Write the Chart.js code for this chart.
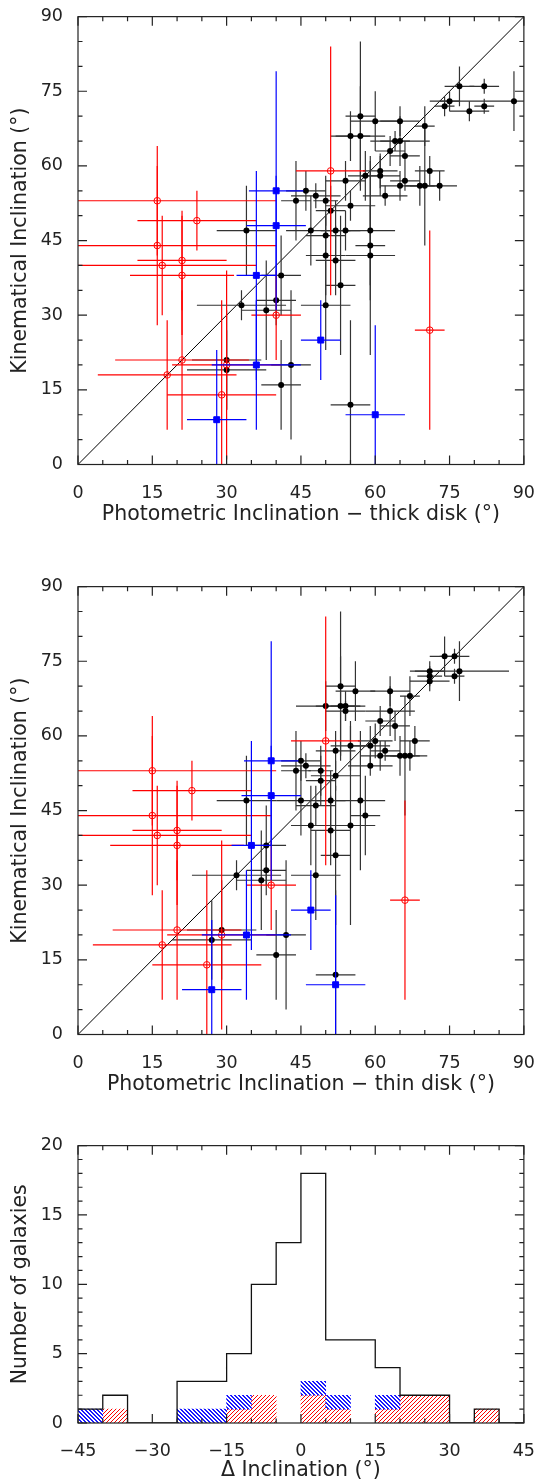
<!DOCTYPE html>
<html>
<head>
<meta charset="utf-8">
<script src="https://cdn.jsdelivr.net/npm/chart.js@4.4.0/dist/chart.umd.min.js"></script>
<style>
    html, body { margin: 0; padding: 0; background: #fff; }
    body { width: 546px; height: 1484px; position: relative; overflow: hidden; }
    canvas { position: absolute; left: 0; }
</style>
</head>
<body>
<canvas id="thick" width="546" height="545" style="top:0px"></canvas>
<canvas id="thin" width="546" height="545" style="top:570px"></canvas>
<canvas id="hist" width="546" height="355" style="top:1129px"></canvas>
<script>
// --- DATA ---
const scatterTicks = [0, 15, 30, 45, 60, 75, 90];
const diagonal = [0, 90];

// black: kinematic vs photometric inclination
const thickBlackX = [77,82,75,74,79,82,88,57,60,65,55,57,70,64,65,63,66,61,58,61,71,54,66,65,69,70,73,62,46,48,44,50,55,51,47,50,52,54,59,34,41,33,40,38,30,30,43,41,59,50,59,52,53,50,55];
const thickBlackY = [76,76,73,72,71,72,73,70,69,69,66,66,68,65,65,63,62,59,58,58,59,57,57,56,56,56,56,54,55,54,53,53,52,51,47,46,47,47,47,47,38,32,33,31,21,19,20,16,44,42,42,41,36,32,12];
const thickBlackXErr = [3,3,2,2,4,2,17,3,5,4,4,5,2,3,6,3,3,3.5,3.5,4,3,4,3,4,3,3,3.5,4.5,4,5,3,2.5,5,3,5,4,3,3,5,6,4,9,4,5,7,8,4,4,3,4,5,4,3,5,4];
const thickBlackYErr = [4,1.5,2,2,2,1.5,6,15,6,3,5,10,4,2,5,3,3,3.5,5,4,3,4,2,3,4,12,3,2,4,2.5,8,5,3,5,7,4,6,4,14,9,8,3,5,10,10,8,15,9,8,8,20,7,14,9,17];

const thinBlackX = [74,76,71,71,71,76,77,53,56,63,50,53,67,54,63,61,64,60,55,59,68,52,62,61,65,66,67,59,45,46,44,49,52,49,45,48,51,54,57,34,38,32,38,37,29,27,42,40,58,47,55,51,52,48,52];
const thinBlackY = [76,76,73,72,71,72,73,70,69,69,66,66,68,65,65,63,62,59,58,58,59,57,57,56,56,56,56,54,55,54,53,53,52,51,47,46,47,66,47,47,38,32,33,31,21,19,20,16,44,42,42,41,36,32,12];
const thinBlackXErr = [3,3,3,2.5,4,2,10,3,4,4,6,5,2,4,5,3,3,3.5,4,4,3,4,3,4,3,3,3.5,4.5,4,5,3,2.5,5,3,5,4,3,3,5,6,4,9,4,5,7,8,4,4,3,4,5,4,3,5,4];
const thinBlackYErr = [4,1.5,2,2,2,1.5,6,15,6,3,5,10,4,2,5,3,3,3.5,5,4,3,4,2,3,4,12,3,2,4,2.5,8,5,3,5,7,4,6,3,14,9,8,3,5,10,10,8,15,9,8,8,20,7,14,9,17];

// red open circles
const redY = [53,49,44,41,40,38,30,21,20,18,14,59,27];
const redYErr = [11,6,16,10,10,12,9,14,19,11,19,25,20];
const thickRedX = [16,24,16,21,17,21,40,21,30,18,29,51,71];
const thickRedXErr = [24,12,24,9,19,10.5,5,13.5,11,14,11,7,3];
const thinRedX = [15,23,15,20,16,20,39,20,29,17,26,50,66];
const thinRedXErr = [25,12,24,9,19,13.5,5,13,11,14,11,7,3];

// blue squares
const blueY = [55,48,38,20,9,25,10];
const blueYErr = [24,10,21,13,14,8,18];
const thickBlueX = [40,40,36,36,28,49,60];
const thickBlueXErr = [5.5,6,4,9,6,4,6];
const thinBlueX = [39,39,35,34,27,47,52];
const thinBlueXErr = [5.5,6,4,9,6,4,6];

// histogram of differences
const histXTicks = [-45, -30, -15, 0, 15, 30, 45];
const histYTicks = [0, 5, 10, 15, 20];
const binEdges = [-45,-40,-35,-30,-25,-20,-15,-10,-5,0,5,10,15,20,25,30,35,40,45];
const allCounts = [1,2,0,0,3,3,5,10,13,18,6,6,4,2,2,0,1,0];
const redCounts = [0,1,0,0,0,0,1,2,0,2,1,0,1,2,2,0,1,0];
const blueCounts = [1,0,0,0,1,1,1,0,0,1,1,0,1,0,0,0,0,0];

// --- STYLE ---
const INK = '#222';
const tickFont = { family: 'DejaVu Sans', size: 17.5, lineHeight: 1.1 };
const titleFont = { family: 'DejaVu Sans', size: 20.5, lineHeight: 1.2 };
Chart.defaults.color = INK;

// --- PLUGINS ---
const errorBars = {
    id: 'errorBars',
    beforeDatasetDraw(chart, args) {
        const ds = chart.data.datasets[args.index];
        if (!ds.errX) return;
        const { ctx, chartArea: a, scales: { x, y } } = chart;
        ctx.save();
        ctx.beginPath();
        ctx.rect(a.left, a.top, a.width, a.height);
        ctx.clip();
        ctx.strokeStyle = ds.errColor;
        ctx.lineWidth = 1.2;
        ds.data.forEach((p, i) => {
            const px = x.getPixelForValue(p.x), py = y.getPixelForValue(p.y);
            ctx.beginPath();
            ctx.moveTo(x.getPixelForValue(p.x - ds.errX[i]), py);
            ctx.lineTo(x.getPixelForValue(p.x + ds.errX[i]), py);
            ctx.moveTo(px, y.getPixelForValue(p.y - ds.errY[i]));
            ctx.lineTo(px, y.getPixelForValue(p.y + ds.errY[i]));
            ctx.stroke();
        });
        ctx.restore();
    }
};

const frame = {
    id: 'frame',
    afterDraw(chart, args, opts) {
        const { ctx, chartArea: a, scales: { x, y } } = chart;
        ctx.save();
        ctx.strokeStyle = INK;
        ctx.lineWidth = 1.2;
        ctx.strokeRect(a.left, a.top, a.width, a.height);
        ctx.beginPath();
        for (let v = x.min; v <= x.max + 1e-6; v += opts.xMinor) {
            const len = opts.xMajor.includes(v) ? 9 : 4.5;
            const px = x.getPixelForValue(v);
            ctx.moveTo(px, a.bottom); ctx.lineTo(px, a.bottom - len);
            ctx.moveTo(px, a.top); ctx.lineTo(px, a.top + len);
        }
        for (let v = y.min; v <= y.max + 1e-6; v += opts.yMinor) {
            const len = opts.yMajor.includes(v) ? 9 : 4.5;
            const py = y.getPixelForValue(v);
            ctx.moveTo(a.left, py); ctx.lineTo(a.left + len, py);
            ctx.moveTo(a.right, py); ctx.lineTo(a.right - len, py);
        }
        ctx.stroke();
        ctx.restore();
    }
};

// --- HELPERS ---
const pts = (xs, ys) => xs.map((v, i) => ({ x: v, y: ys[i] }));
const minus = v => String(v).replace('-', '\u2212');

function axis(min, max, ticks, title, extra) {
    return Object.assign({
        type: 'linear', min, max,
        afterBuildTicks: s => { s.ticks = ticks.map(v => ({ value: v })); },
        grid: { display: false },
        border: { display: false },
        ticks: { font: tickFont, color: INK, autoSkip: false, maxRotation: 0, callback: minus },
        title: { display: true, text: title, font: titleFont, color: INK, padding: 0 }
    }, extra);
}

function scatterChart(id, s, xTitle) {
    return new Chart(document.getElementById(id), {
        type: 'scatter',
        data: {
            datasets: [
                { data: pts(s.blueX, blueY), errX: s.blueXErr, errY: blueYErr, errColor: '#0000ff',
                  pointStyle: 'rect', pointRadius: 4.2, backgroundColor: '#0000ff', borderColor: '#0000ff', borderWidth: 1 },
                { data: pts(s.redX, redY), errX: s.redXErr, errY: redYErr, errColor: '#ff0000',
                  pointStyle: 'circle', pointRadius: 3.3, backgroundColor: 'rgba(0,0,0,0)', borderColor: '#ff0000', borderWidth: 1 },
                { data: pts(s.blackX, s.blackY), errX: s.blackXErr, errY: s.blackYErr, errColor: '#333',
                  pointStyle: 'circle', pointRadius: 3, backgroundColor: '#000', borderColor: '#000', borderWidth: 0 },
                { type: 'line', data: pts(diagonal, diagonal), borderColor: '#000', borderWidth: 1, pointRadius: 0 }
            ]
        },
        options: {
            responsive: false, animation: false, devicePixelRatio: 1, events: [],
            layout: { padding: { left: 0, right: 14, top: 11, bottom: 18.5 } },
            plugins: {
                legend: { display: false }, tooltip: { enabled: false },
                frame: { xMinor: 5, yMinor: 5, xMajor: scatterTicks, yMajor: scatterTicks }
            },
            scales: {
                x: axis(0, 90, scatterTicks, xTitle, { afterFit: sc => { sc.height = 62; } }),
                y: axis(0, 90, scatterTicks, 'Kinematical Inclination (\u00b0)', { afterFit: sc => { sc.width = 78; } })
            }
        },
        plugins: [errorBars, frame]
    });
}

function fixAxisPadding(chart) {
    chart.options.scales.x.ticks.padding = 11;
    chart.options.scales.y.ticks.padding = 7;
    chart.options.scales.y.title.padding = { top: 8.5, bottom: 0 };
    chart.update();
    return chart;
}

// --- CHARTS ---
fixAxisPadding(scatterChart('thick', {
    blackX: thickBlackX, blackY: thickBlackY, blackXErr: thickBlackXErr, blackYErr: thickBlackYErr,
    redX: thickRedX, redXErr: thickRedXErr, blueX: thickBlueX, blueXErr: thickBlueXErr
}, 'Photometric Inclination \u2212 thick disk (\u00b0)'));

fixAxisPadding(scatterChart('thin', {
    blackX: thinBlackX, blackY: thinBlackY, blackXErr: thinBlackXErr, blackYErr: thinBlackYErr,
    redX: thinRedX, redXErr: thinRedXErr, blueX: thinBlueX, blueXErr: thinBlueXErr
}, 'Photometric Inclination \u2212 thin disk (\u00b0)'));

// crisp diagonal hatching, `w` pixels thick per stripe
function hatch(ctx, color, forward, w) {
    const s = 4, c = document.createElement('canvas');
    c.width = c.height = s;
    const g = c.getContext('2d');
    g.fillStyle = color;
    for (let i = 0; i < s; i++) {
        const row = forward ? s - 1 - i : i;
        g.fillRect(i, row, 1, 1);
        if (w > 1) g.fillRect((i + 1) % s, row, 1, 1);
    }
    return ctx.createPattern(c, 'repeat');
}

const histCanvas = document.getElementById('hist');
const hctx = histCanvas.getContext('2d');
const centers = allCounts.map((_, i) => (binEdges[i] + binEdges[i + 1]) / 2);
const redBars = centers.map((c, i) => ({ x: c, y: [0, redCounts[i]] })).filter((_, i) => redCounts[i] > 0);
const blueBars = centers.map((c, i) => ({ x: c, y: [redCounts[i], redCounts[i] + blueCounts[i]] })).filter((_, i) => blueCounts[i] > 0);
const outline = binEdges.map((e, i) => ({ x: e, y: i < allCounts.length ? allCounts[i] : 0 }));

const histChart = new Chart(histCanvas, {
    type: 'bar',
    data: {
        datasets: [
            { type: 'line', data: outline, stepped: 'before', borderColor: '#111', borderWidth: 1.3, pointRadius: 0, fill: false },
            { data: blueBars, backgroundColor: hatch(hctx, '#1a1aff', false, 2), borderWidth: 0,
              grouped: false, barPercentage: 1, categoryPercentage: 1 },
            { data: redBars, backgroundColor: hatch(hctx, '#ff0000', true, 1), borderWidth: 0,
              grouped: false, barPercentage: 1, categoryPercentage: 1 }
        ]
    },
    options: {
        responsive: false, animation: false, devicePixelRatio: 1, events: [],
        layout: { padding: { left: 0, right: 14, top: 11, bottom: 1 } },
        plugins: {
            legend: { display: false }, tooltip: { enabled: false },
            frame: { xMinor: 5, yMinor: 1, xMajor: histXTicks, yMajor: histYTicks }
        },
        scales: {
            x: axis(-45, 45, histXTicks, '\u0394 Inclination (\u00b0)', {
                offset: false, afterFit: sc => { sc.height = 60; } }),
            y: axis(0, 20, histYTicks, 'Number of galaxies', { afterFit: sc => { sc.width = 78; } })
        }
    },
    plugins: [frame]
});
fixAxisPadding(histChart);
</script>
</body>
</html>
